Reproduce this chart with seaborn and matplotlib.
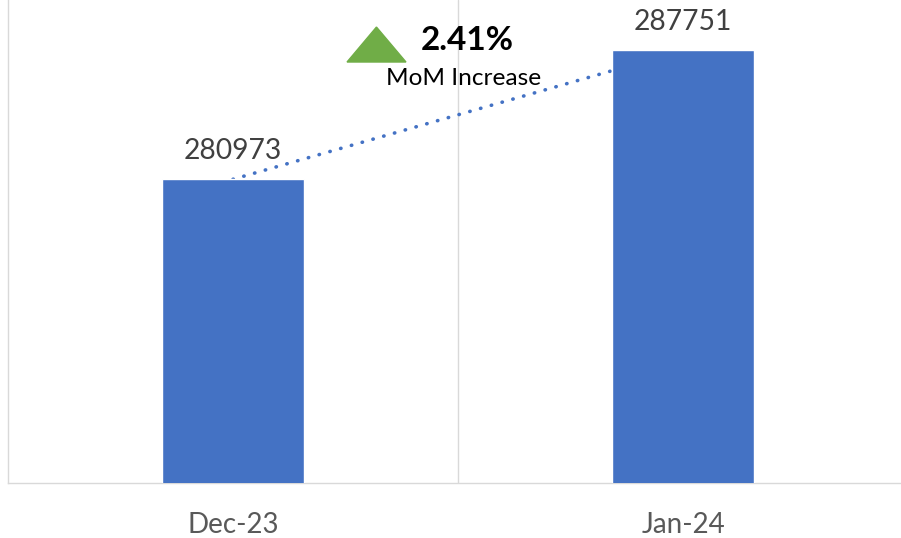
import pandas as pd
import matplotlib.pyplot as plt
import seaborn as sns
from matplotlib.patches import Polygon

# data
months = ['Dec-23', 'Jan-24']
counts = [280973, 287751]
mom_change = '2.41%'
mom_label = 'MoM Increase'

bar_color = '#4472c4'
grid_color = '#d9d9d9'

sns.set_style('white')
plt.rcParams['font.family'] = ['Lato', 'DejaVu Sans']

df = pd.DataFrame({'month': months, 'count': counts})

fig = plt.figure(figsize=(9.01, 5.38), dpi=100)
ax = fig.add_axes([8 / 901, 55 / 538, 900 / 901, 483 / 538])

sns.barplot(data=df, x='month', y='count', color=bar_color, saturation=1,
            width=0.314, ax=ax, zorder=3)

# dotted connector between bar tops (hidden behind bars)
ax.plot(range(len(counts)), counts, color=bar_color, linewidth=2.6,
        linestyle=(0, (0.1, 3.0)), dash_capstyle='round', zorder=2)

ax.set_xlim(-0.5, 1.5)
ax.set_ylim(265000, 290400)

# value labels
for i, v in enumerate(counts):
    ax.annotate(str(v), (i, v), xytext=(0, 14.4), textcoords='offset points',
                ha='center', va='baseline', fontsize=20.3, color='#404040')

# category separators
ax.set_xticks([0.5], minor=True)
ax.grid(which='minor', axis='x', color=grid_color, linewidth=1)
ax.set_yticks([])
ax.set_xlabel('')
ax.set_ylabel('')
ax.tick_params(axis='x', which='both', length=0, pad=21, labelsize=20,
               labelcolor='#595959')
for side in ['left', 'right', 'bottom']:
    ax.spines[side].set_visible(True)
    ax.spines[side].set_color(grid_color)
    ax.spines[side].set_linewidth(1)
ax.spines['top'].set_visible(False)

# MoM callout
tri = Polygon([[0.4094, 0.944], [0.3767, 0.8716], [0.4422, 0.8716]],
              closed=True, transform=ax.transAxes, color='#70ad47',
              zorder=5, clip_on=False)
ax.add_patch(tri)
ax.text(0.5105, 0.8965, mom_change, transform=ax.transAxes, ha='center',
        va='baseline', fontsize=24, fontweight='bold', color='black', zorder=5)
ax.text(0.506, 0.824, mom_label, transform=ax.transAxes, ha='center',
        va='baseline', fontsize=17.6, color='black', zorder=5)

fig.savefig('out.png', dpi=100)
